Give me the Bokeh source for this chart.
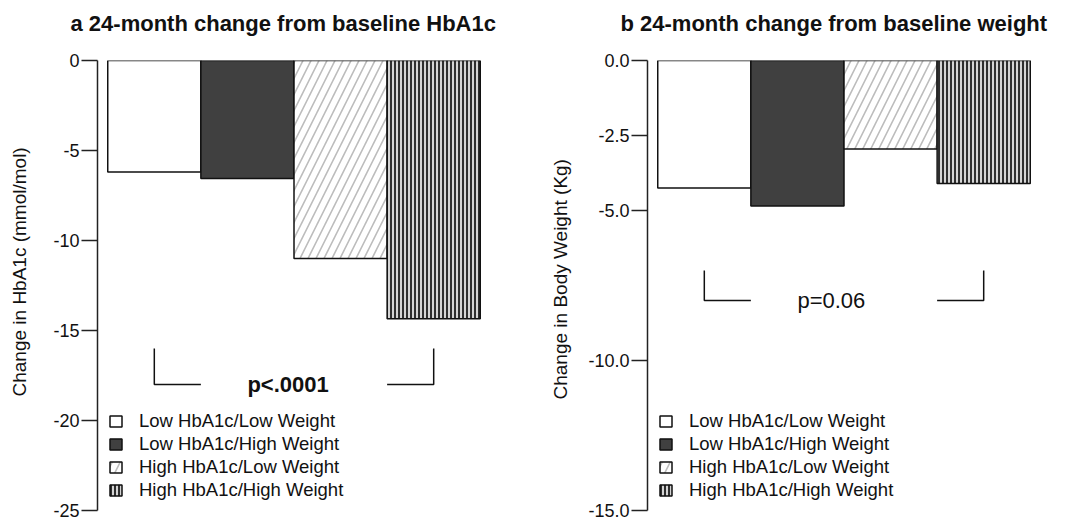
from bokeh.plotting import figure
from bokeh.models import (Range1d, FixedTicker, PrintfTickFormatter, Label,
                          Legend, LegendItem, LinearAxis, Title)
from bokeh.layouts import row
from bokeh.embed import file_html
from bokeh.resources import INLINE

# ---------------- data ----------------
groups = ["Low HbA1c/Low Weight", "Low HbA1c/High Weight",
          "High HbA1c/Low Weight", "High HbA1c/High Weight"]
x_pos = [0.5, 1.5, 2.5, 3.5]
hba1c_change = [-6.2, -6.55, -11.0, -14.35]
weight_change = [-4.25, -4.85, -2.95, -4.1]

hba1c_ticks = [0, -5, -10, -15, -20, -25]
weight_ticks = [0, -2.5, -5, -10, -15]

titles = ["a 24-month change from baseline HbA1c",
          "b 24-month change from baseline weight"]
ylabels = ["Change in HbA1c (mmol/mol)", "Change in Body Weight (Kg)"]
p_texts = ["p<.0001", "p=0.06"]
bracket_top = [-16, -7]
bracket_bottom = [-18, -8]

FONT = "Liberation Sans"
INK = "#111111"

styles = [
    dict(fill_color="white"),
    dict(fill_color="#404040"),
    dict(fill_color="white", hatch_pattern="/", hatch_color="#bcbcbc",
         hatch_scale=16, hatch_weight=1.6),
    dict(fill_color="#d4d4d4", hatch_pattern="|", hatch_color="#2e2e2e",
         hatch_scale=4, hatch_weight=2),
]


def spacer_axis(size, tick):
    # an (invisible) axis used only to reserve space in a side panel
    return LinearAxis(ticker=FixedTicker(ticks=[tick]), major_tick_out=size,
                      major_tick_in=0, minor_tick_out=0, minor_tick_in=0,
                      axis_line_color=None, major_tick_line_color="white",
                      major_tick_line_width=1,
                      minor_tick_line_color=None,
                      major_label_text_font_size="1px",
                      major_label_text_color="white",
                      major_label_standoff=0)


def make_panel(values, ticks, fmt, y_start, title, ylabel, ptext, pbold,
               btop, bbot, width, left, right, ygap, ylabel_offset):
    p = figure(width=width, height=520,
               x_range=Range1d(-0.11, 4.11), y_range=Range1d(y_start, 0),
               min_border_left=left, min_border_right=right,
               min_border_top=60, min_border_bottom=10,
               toolbar_location=None, output_backend="svg",
               x_axis_location=None)
    p.grid.visible = False
    p.outline_line_color = None
    p.background_fill_color = "white"
    p.border_fill_color = "white"

    ax = p.yaxis[0]
    ax.ticker = FixedTicker(ticks=ticks)
    ax.formatter = PrintfTickFormatter(format=fmt)
    ax.major_tick_out = 16
    ax.major_tick_in = 0
    ax.minor_tick_line_color = None
    ax.major_label_standoff = 2
    ax.axis_line_color = "#222222"
    ax.axis_line_width = 1.5
    ax.major_tick_line_color = "#222222"
    ax.major_tick_line_width = 1.5
    ax.major_label_text_font = FONT
    ax.major_label_text_font_size = "18px"
    ax.major_label_text_color = INK

    items = []
    for i in range(4):
        r = p.vbar(x=[x_pos[i]], top=[0], bottom=[values[i]], width=1,
                   line_color=INK, line_width=1.5, **styles[i])
        items.append(LegendItem(label=groups[i], renderers=[r]))

    legend = Legend(items=items, location=(11, 9),
                    border_line_color=None, background_fill_alpha=0,
                    padding=0, margin=0, spacing=1, label_height=21,
                    glyph_width=15, glyph_height=14, label_standoff=16,
                    label_text_font=FONT, label_text_font_size="18.5px",
                    label_text_color=INK)
    p.add_layout(legend)

    # significance bracket
    p.multi_line(xs=[[x_pos[0], x_pos[0], x_pos[0] + 0.5],
                     [x_pos[3] - 0.5, x_pos[3], x_pos[3]]],
                 ys=[[btop, bbot, bbot], [bbot, bbot, btop]],
                 line_color=INK, line_width=1.5)
    p.add_layout(Label(x=x_pos[1], y=bbot, text=ptext, text_align="left",
                       text_baseline="middle", text_font=FONT,
                       text_font_size="22px",
                       text_font_style="bold" if pbold else "normal",
                       text_color=INK))

    # title (spacer between title and frame)
    p.add_layout(spacer_axis(21, 4.05), "above")
    p.add_layout(Title(text=title, align="left", offset=-27, standoff=0,
                       vertical_align="bottom", text_font=FONT,
                       text_font_size="22px", text_font_style="bold",
                       text_color=INK), "above")
    # y label (spacer between tick labels and label)
    p.add_layout(spacer_axis(ygap, y_start * 0.99), "left")
    p.add_layout(Title(text=ylabel, align="left", offset=ylabel_offset,
                       standoff=0, vertical_align="bottom", text_font=FONT,
                       text_font_size="19px", text_font_style="normal",
                       text_color=INK), "left")
    return p


pa = make_panel(hba1c_change, hba1c_ticks, "%d", -25, titles[0], ylabels[0],
                p_texts[0], True, bracket_top[0], bracket_bottom[0],
                width=540, left=97, right=50, ygap=15, ylabel_offset=114)
pb = make_panel(weight_change, weight_ticks, "%.1f", -15, titles[1],
                ylabels[1], p_texts[1], False, bracket_top[1],
                bracket_bottom[1], width=535, left=107, right=35,
                ygap=9, ylabel_offset=111)

layout = row(pa, pb)
open("out.html", "w").write(file_html(layout, INLINE))
